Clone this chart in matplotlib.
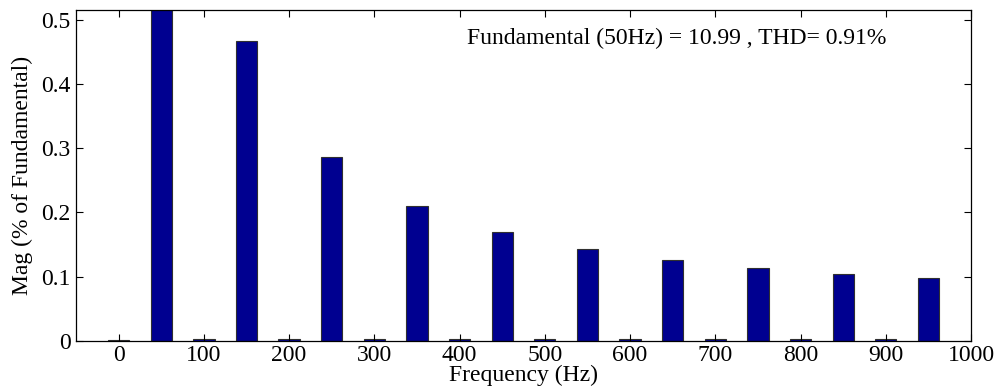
import numpy as np
import matplotlib.pyplot as plt

# harmonic spectrum, % of fundamental (50 Hz bar is the fundamental, clipped at top)
freqs = [0, 50, 100, 150, 200, 250, 300, 350, 400, 450, 500,
         550, 600, 650, 700, 750, 800, 850, 900, 950]
mags = [0.0006, 100.0, 0.003, 0.467, 0.003, 0.287, 0.003, 0.210, 0.003, 0.169, 0.003,
        0.143, 0.003, 0.126, 0.003, 0.113, 0.003, 0.104, 0.003, 0.097]
xticks = [0, 100, 200, 300, 400, 500, 600, 700, 800, 900, 1000]
yticks = [0, 0.1, 0.2, 0.3, 0.4, 0.5]
info = "Fundamental (50Hz) = 10.99 , THD= 0.91%"

plt.rcParams['font.family'] = ['Liberation Serif', 'DejaVu Serif']
plt.rcParams['font.size'] = 17

fig = plt.figure(figsize=(9.99, 3.92), dpi=100)
ax = fig.add_axes([0.0761, 0.1309, 0.972 - 0.0761, 0.9745 - 0.1309])

ax.bar(freqs, mags, width=25, color='#000090', edgecolor='#303030', linewidth=0.8)

ax.set_xlim(-50, 1000)
ax.set_ylim(0, 0.5156)
ax.set_xticks(xticks)
ax.set_yticks(yticks)
ax.set_yticklabels(["0", "0.1", "0.2", "0.3", "0.4", "0.5"])
ax.tick_params(direction='in', length=5, width=0.8, top=True, right=True, pad=4)
ax.tick_params(axis='x', pad=3)
for s in ax.spines.values():
    s.set_linewidth(0.9)

ax.set_xlabel("Frequency (Hz)", labelpad=-1)
ax.set_ylabel("Mag (% of Fundamental)", labelpad=6)
ax.text(409, 0.4715, info, va='center', ha='left')

fig.savefig("out.png", dpi=100)
